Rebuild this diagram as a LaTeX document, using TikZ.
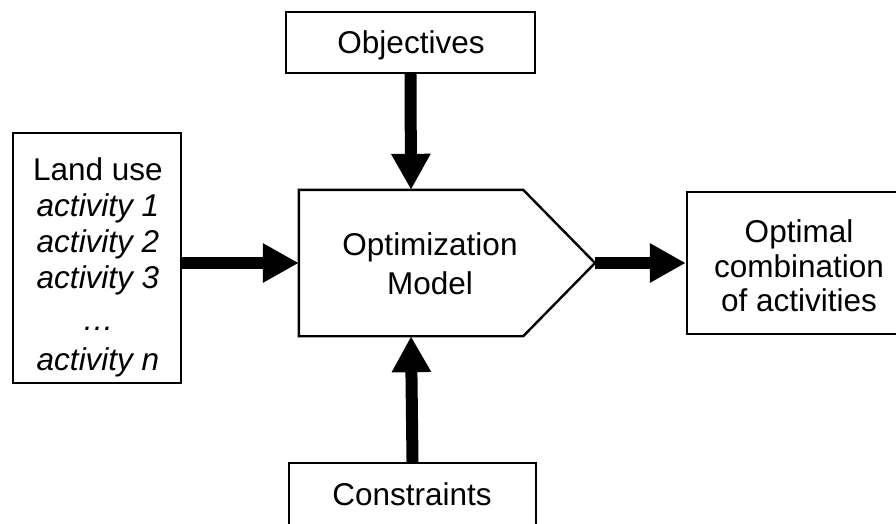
\documentclass[tikz,border=0pt]{standalone}
\usepackage{fontspec}
\setmainfont{Liberation Sans}
\usetikzlibrary{arrows.meta}
\tikzset{
  box/.style={draw, line width=2.4pt, inner sep=0pt, outer sep=1.2pt},
  txt/.style={inner sep=0pt, align=center, font=\fontsize{31.5}{36}\selectfont},
  bigarrow/.style={line width=12pt, -{Triangle[length=36pt,width=37pt]}}
}
\begin{document}
\begin{tikzpicture}[x=1pt,y=-1pt]
\useasboundingbox (0,0) rectangle (896,523);
\clip (0,0) rectangle (896,523);
% boxes
\node[box, minimum width=249pt, minimum height=61pt] (obj) at (410.5,42.5) {};
\node[box, minimum width=247pt, minimum height=66pt] (con) at (412.5,496) {};
\node[box, minimum width=168pt, minimum height=250pt] (land) at (97,258) {};
\node[box, minimum width=224pt, minimum height=142pt] (opt) at (799,263) {};
% optimization model (pentagon)
\node[inner sep=0pt, outer sep=1.2pt, minimum width=222pt, minimum height=144pt] (model) at (411,263) {};
\coordinate (tip) at (595,263);
\draw[line width=2.4pt, line join=miter] (model.north west) -- (model.north east) -- (tip) -- (model.south east) -- (model.south west) -- cycle;
% texts
\node[txt, anchor=base] (objt) at (411,53) {Objectives};
\node[txt, anchor=base] (cont) at (412,505) {Constraints};
\node[txt] (landt) at (98,267) {Land use\\\itshape activity 1\\\itshape activity 2\\\itshape activity 3\\[6pt]\itshape …\\[4pt]\itshape activity n};
\node[txt, font=\fontsize{31.5}{39}\selectfont] (modelt) at (430,264) {Optimization\\Model};
\node[txt, font=\fontsize{31.5}{34.5}\selectfont] (optt) at (799,266) {Optimal\\combination\\of activities};
% connectors
\draw[bigarrow] (land.east |- model.west) -- (model.west);
\draw[bigarrow] (obj.south) -- (model.north);
\draw[bigarrow] (con.north) -- (model.south);
\draw[bigarrow] (tip) -- (tip -| opt.west);
\end{tikzpicture}
\end{document}
